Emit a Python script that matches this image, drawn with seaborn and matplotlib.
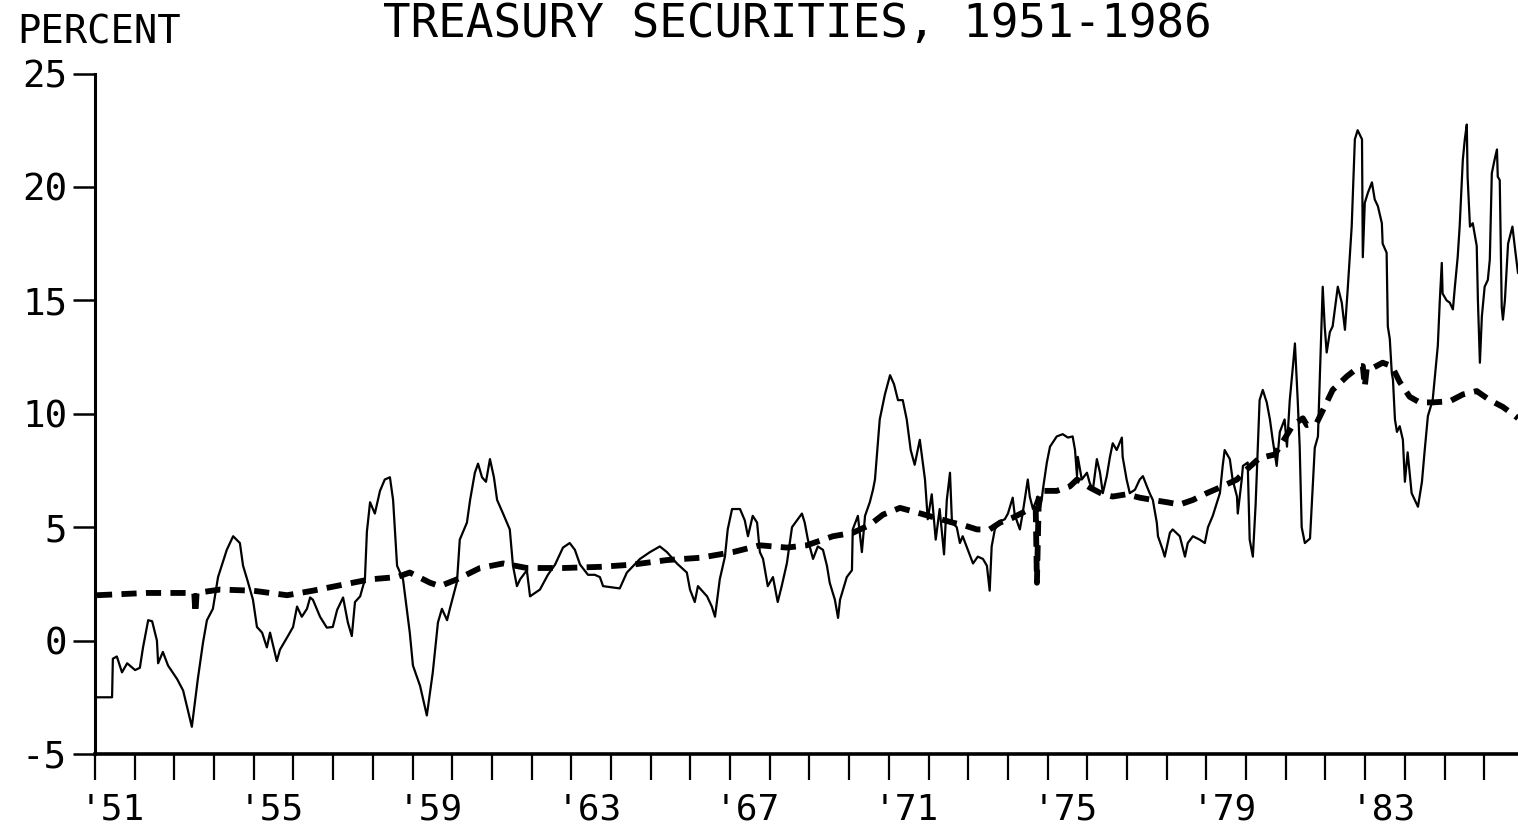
import matplotlib
matplotlib.use("Agg")
import matplotlib.pyplot as plt
import matplotlib.transforms as mtransforms
import pandas as pd
import seaborn as sns

# solid line, decimal years / percent
solid_years = [
    1951.05, 1951.43, 1951.45, 1951.55, 1951.68, 1951.81, 1952.01, 1952.13, 1952.21, 1952.34,
    1952.44, 1952.56, 1952.59, 1952.71, 1952.84, 1953.07, 1953.22, 1953.44, 1953.52, 1953.59,
    1953.72, 1953.82, 1953.97, 1954.10, 1954.32, 1954.48, 1954.65, 1954.73, 1954.85, 1954.98,
    1955.08, 1955.21, 1955.33, 1955.41, 1955.58, 1955.66, 1955.86, 1955.99, 1956.09, 1956.21,
    1956.34, 1956.42, 1956.49, 1956.67, 1956.84, 1956.99, 1957.10, 1957.25, 1957.37, 1957.47,
    1957.55, 1957.68, 1957.80, 1957.85, 1957.93, 1958.05, 1958.18, 1958.30, 1958.43, 1958.51,
    1958.61, 1958.76, 1958.93, 1959.01, 1959.19, 1959.36, 1959.51, 1959.64, 1959.74, 1959.87,
    1959.94, 1960.12, 1960.19, 1960.37, 1960.45, 1960.57, 1960.65, 1960.75, 1960.85, 1960.95,
    1961.05, 1961.13, 1961.28, 1961.45, 1961.53, 1961.63, 1961.71, 1961.88, 1961.96, 1962.21,
    1962.41, 1962.59, 1962.79, 1962.96, 1963.09, 1963.22, 1963.42, 1963.59, 1963.72, 1963.80,
    1964.22, 1964.40, 1964.73, 1964.98, 1965.23, 1965.41, 1965.66, 1965.91, 1965.99, 1966.11,
    1966.19, 1966.42, 1966.54, 1966.62, 1966.74, 1966.87, 1966.94, 1967.05, 1967.25, 1967.37,
    1967.45, 1967.57, 1967.68, 1967.75, 1967.83, 1967.95, 1968.08, 1968.20, 1968.30, 1968.43,
    1968.56, 1968.81, 1968.88, 1968.96, 1969.09, 1969.21, 1969.34, 1969.44, 1969.51, 1969.64,
    1969.72, 1969.77, 1969.94, 1970.07, 1970.09, 1970.22, 1970.32, 1970.40, 1970.52, 1970.60,
    1970.65, 1970.77, 1970.90, 1971.03, 1971.13, 1971.23, 1971.35, 1971.45, 1971.55, 1971.65,
    1971.78, 1971.91, 1971.98, 1972.08, 1972.18, 1972.28, 1972.39, 1972.46, 1972.54, 1972.59,
    1972.71, 1972.79, 1972.86, 1972.99, 1973.12, 1973.24, 1973.37, 1973.47, 1973.54, 1973.59,
    1973.67, 1973.80, 1973.92, 1974.00, 1974.12, 1974.17, 1974.30, 1974.37, 1974.50, 1974.55,
    1974.63, 1974.75, 1974.80, 1974.85, 1974.88, 1974.98, 1975.06, 1975.23, 1975.38, 1975.51,
    1975.63, 1975.69, 1975.74, 1975.76, 1975.86, 1975.99, 1976.06, 1976.14, 1976.24, 1976.32,
    1976.39, 1976.49, 1976.57, 1976.64, 1976.74, 1976.87, 1976.89, 1976.99, 1977.07, 1977.20,
    1977.32, 1977.40, 1977.50, 1977.57, 1977.65, 1977.75, 1977.78, 1977.90, 1977.95, 1978.08,
    1978.15, 1978.33, 1978.46, 1978.53, 1978.66, 1978.83, 1978.96, 1979.04, 1979.16, 1979.34,
    1979.41, 1979.46, 1979.59, 1979.66, 1979.77, 1979.79, 1979.89, 1979.92, 1980.04, 1980.09,
    1980.17, 1980.24, 1980.34, 1980.42, 1980.52, 1980.60, 1980.67, 1980.77, 1980.85, 1980.97,
    1981.03, 1981.10, 1981.18, 1981.23, 1981.30, 1981.35, 1981.40, 1981.48, 1981.61, 1981.73,
    1981.81, 1981.86, 1981.93, 1981.98, 1982.03, 1982.11, 1982.18, 1982.31, 1982.41, 1982.49,
    1982.56, 1982.66, 1982.74, 1982.81, 1982.92, 1982.94, 1982.99, 1983.07, 1983.17, 1983.24,
    1983.32, 1983.42, 1983.44, 1983.54, 1983.57, 1983.62, 1983.67, 1983.70, 1983.75, 1983.80,
    1983.87, 1983.95, 1984.00, 1984.07, 1984.17, 1984.33, 1984.43, 1984.50, 1984.58, 1984.70,
    1984.83, 1984.88, 1984.93, 1984.95, 1985.05, 1985.13, 1985.21, 1985.26, 1985.33, 1985.38,
    1985.46, 1985.51, 1985.56, 1985.58, 1985.64, 1985.71, 1985.81, 1985.84, 1985.89, 1985.94,
    1986.01, 1986.09, 1986.14, 1986.19, 1986.26, 1986.32, 1986.34, 1986.39, 1986.44, 1986.47,
    1986.52, 1986.60, 1986.71, 1986.78, 1986.85,
]
solid_pct = [
    -2.5, -2.5, -0.8, -0.7, -1.4, -1.0, -1.3, -1.2, -0.3, 0.9,
    0.85, 0.0, -1.0, -0.5, -1.1, -1.7, -2.2, -3.8, -2.7, -1.7,
    -0.1, 0.9, 1.4, 2.8, 4.0, 4.6, 4.3, 3.3, 2.6, 1.8,
    0.6, 0.35, -0.3, 0.35, -0.9, -0.4, 0.2, 0.6, 1.5, 1.05,
    1.4, 1.9, 1.8, 1.05, 0.57, 0.6, 1.35, 1.9, 0.8, 0.2,
    1.7, 1.95, 2.7, 4.8, 6.1, 5.6, 6.6, 7.1, 7.2, 6.2,
    3.3, 2.7, 0.35, -1.1, -2.0, -3.3, -1.4, 0.8, 1.4, 0.9,
    1.4, 2.6, 4.45, 5.2, 6.2, 7.4, 7.8, 7.2, 7.0, 8.0,
    7.2, 6.2, 5.6, 4.9, 3.3, 2.4, 2.7, 3.1, 1.95, 2.25,
    2.9, 3.35, 4.1, 4.3, 4.0, 3.35, 2.9, 2.9, 2.8, 2.4,
    2.3, 3.0, 3.6, 3.9, 4.15, 3.9, 3.4, 3.0, 2.25, 1.7,
    2.4, 1.95, 1.5, 1.05, 2.7, 3.7, 4.9, 5.8, 5.8, 5.3,
    4.6, 5.5, 5.2, 3.9, 3.6, 2.4, 2.8, 1.7, 2.4, 3.4,
    5.0, 5.6, 5.2, 4.45, 3.6, 4.15, 4.0, 3.3, 2.55, 1.8,
    1.0, 1.8, 2.8, 3.1, 4.9, 5.5, 3.9, 5.5, 6.1, 6.65,
    7.1, 9.75, 10.85, 11.7, 11.3, 10.6, 10.6, 9.75, 8.4, 7.75,
    8.85, 7.1, 5.35, 6.45, 4.45, 5.8, 3.8, 6.2, 7.4, 5.2,
    5.0, 4.3, 4.6, 4.0, 3.4, 3.7, 3.6, 3.3, 2.2, 4.15,
    4.9, 5.25, 5.35, 5.6, 6.3, 5.55, 4.9, 5.6, 7.1, 6.35,
    5.8, 6.35, 5.8, 6.2, 6.65, 7.85, 8.55, 9.0, 9.1, 8.95,
    9.0, 8.4, 7.25, 8.1, 7.1, 7.4, 6.95, 6.65, 8.0, 7.4,
    6.5, 7.25, 8.1, 8.7, 8.4, 8.95, 8.1, 7.1, 6.5, 6.65,
    7.1, 7.25, 6.8, 6.5, 6.2, 5.2, 4.6, 4.0, 3.7, 4.75,
    4.9, 4.6, 3.7, 4.3, 4.6, 4.45, 4.3, 5.0, 5.5, 6.5,
    7.7, 8.4, 8.0, 7.1, 6.35, 5.6, 7.1, 7.7, 7.85, 4.45,
    3.7, 6.0, 10.6, 11.05, 10.5, 9.75, 8.85, 7.7, 9.2, 9.75,
    8.55, 10.6, 12.1, 13.1, 10.6, 8.55, 5.0, 4.3, 4.5, 8.5,
    9.0, 11.8, 15.6, 13.85, 12.7, 13.6, 13.85, 15.6, 14.9, 13.7,
    15.5, 18.25, 22.1, 22.5, 22.1, 16.9, 19.3, 19.75, 20.2, 19.45,
    19.15, 18.4, 17.5, 17.1, 13.85, 13.3, 11.8, 11.5, 9.75, 9.2,
    9.45, 8.85, 7.0, 8.3, 6.5, 5.9, 7.0, 8.4, 9.9, 10.6,
    13.0, 15.0, 16.65, 15.3, 15.0, 14.9, 14.6, 15.6, 16.9, 18.25,
    21.2, 22.1, 22.75, 20.45, 18.25, 18.4, 17.4, 15.0, 12.25, 14.3,
    15.6, 15.9, 16.8, 20.6, 21.2, 21.65, 20.45, 20.3, 14.7, 14.15,
    15.0, 17.5, 18.25, 17.2, 16.2,
]

# dashed line
dashed_years = [
    1951.05, 1952.31, 1953.47, 1953.50, 1953.53, 1953.56, 1954.15, 1954.98, 1955.84, 1956.49,
    1957.35, 1957.93, 1958.61, 1958.93, 1959.44, 1959.69, 1960.12, 1960.70, 1961.28, 1961.88,
    1962.80, 1963.72, 1964.55, 1965.41, 1966.24, 1967.07, 1967.75, 1968.43, 1968.93, 1969.59,
    1970.09, 1970.52, 1970.85, 1971.28, 1971.60, 1972.10, 1972.61, 1972.86, 1973.22, 1973.54,
    1973.80, 1974.10, 1974.55, 1974.70, 1974.73, 1974.78, 1974.88, 1975.23, 1975.56, 1975.74,
    1976.06, 1976.39, 1976.64, 1976.99, 1977.32, 1977.65, 1978.00, 1978.33, 1978.66, 1979.01,
    1979.34, 1979.77, 1980.02, 1980.34, 1980.72, 1980.97, 1981.18, 1981.43, 1981.53, 1981.78,
    1982.03, 1982.18, 1982.54, 1982.87, 1982.94, 1982.99, 1983.04, 1983.12, 1983.44, 1983.67,
    1983.87, 1984.12, 1984.37, 1984.70, 1985.13, 1985.46, 1985.81, 1986.14, 1986.47, 1986.78,
    1986.85,
]
dashed_pct = [
    2.0, 2.1, 2.1, 2.1, 1.2, 2.1, 2.25, 2.2, 2.0, 2.2,
    2.5, 2.7, 2.8, 3.0, 2.55, 2.4, 2.7, 3.2, 3.4, 3.2,
    3.2, 3.25, 3.35, 3.55, 3.65, 3.9, 4.2, 4.1, 4.2, 4.6,
    4.75, 5.1, 5.55, 5.85, 5.7, 5.45, 5.2, 5.1, 4.9, 4.9,
    5.2, 5.4, 5.8, 5.8, 2.55, 6.5, 6.6, 6.6, 6.8, 7.1,
    6.75, 6.45, 6.35, 6.45, 6.3, 6.2, 6.1, 6.0, 6.2, 6.5,
    6.75, 7.1, 7.55, 8.05, 8.2, 8.9, 9.5, 9.8, 9.5, 9.6,
    10.5, 11.05, 11.65, 12.1, 12.1, 11.2, 12.0, 11.95, 12.25, 12.1,
    11.4, 10.75, 10.5, 10.5, 10.55, 10.85, 11.0, 10.6, 10.3, 9.9,
    9.8,
]

tick_years = list(range(1951, 1987))
label_years = [1951, 1955, 1959, 1963, 1967, 1971, 1975, 1979, 1983]
y_ticks = [-5, 0, 5, 10, 15, 20, 25]
y_labels = ['-5', '0', '5', '10', '15', '20', '25']

solid = pd.DataFrame({'year': solid_years, 'pct': solid_pct})
dashed = pd.DataFrame({'year': dashed_years, 'pct': dashed_pct})

sns.set_style('white')
plt.rcParams['font.family'] = ['DejaVu Sans Mono', 'DejaVu Sans']
plt.rcParams['text.color'] = 'black'
plt.rcParams['xtick.color'] = 'black'
plt.rcParams['ytick.color'] = 'black'
plt.rcParams['xtick.labelcolor'] = 'black'
plt.rcParams['ytick.labelcolor'] = 'black'

fig = plt.figure(figsize=(15.18, 8.32), dpi=100)
ax = fig.add_axes([95 / 1518, 1 - 754 / 832, 1 - 95 / 1518, (754 - 73.5) / 832])

sns.lineplot(data=solid, x='year', y='pct', ax=ax, color='black', lw=1.6,
             estimator=None, sort=False)
sns.lineplot(data=dashed, x='year', y='pct', ax=ax, color='black', lw=4.2,
             ls=(0, (2.6, 1.6)), estimator=None, sort=False)

ax.set_xlim(1951, 1986.85)
ax.set_ylim(-5, 25)
ax.set_xlabel('')
ax.set_ylabel('')

for side in ['top', 'right']:
    ax.spines[side].set_visible(False)
ax.spines['left'].set_linewidth(2.2)
ax.spines['bottom'].set_linewidth(2.6)
ax.spines['left'].set_color('black')
ax.spines['bottom'].set_color('black')

ax.set_xticks(tick_years)
ax.set_xticklabels(["'" + str(y)[2:] if y in label_years else '' for y in tick_years])
ax.set_yticks(y_ticks)
ax.set_yticklabels(y_labels)

ax.tick_params(axis='x', direction='out', length=19, width=1.6, color='black',
               labelcolor='black', pad=9, labelsize=26, bottom=True)
ax.tick_params(axis='y', direction='out', length=16, width=1.8, color='black',
               labelcolor='black', pad=4, labelsize=27, left=True)

# x labels start just left of their tick
shift = mtransforms.ScaledTranslation(-15 / 100, 0, fig.dpi_scale_trans)
for lbl in ax.get_xticklabels():
    lbl.set_horizontalalignment('left')
    lbl.set_transform(lbl.get_transform() + shift)

fig.text(17 / 1518, 1 - 43 / 832, 'PERCENT', fontsize=28, ha='left', va='baseline',
         color='black')
fig.text(797 / 1518, 1 - 37 / 832, 'TREASURY SECURITIES, 1951-1986', fontsize=33,
         ha='center', va='baseline', color='black')

fig.savefig('out.png', dpi=100, facecolor='white')
